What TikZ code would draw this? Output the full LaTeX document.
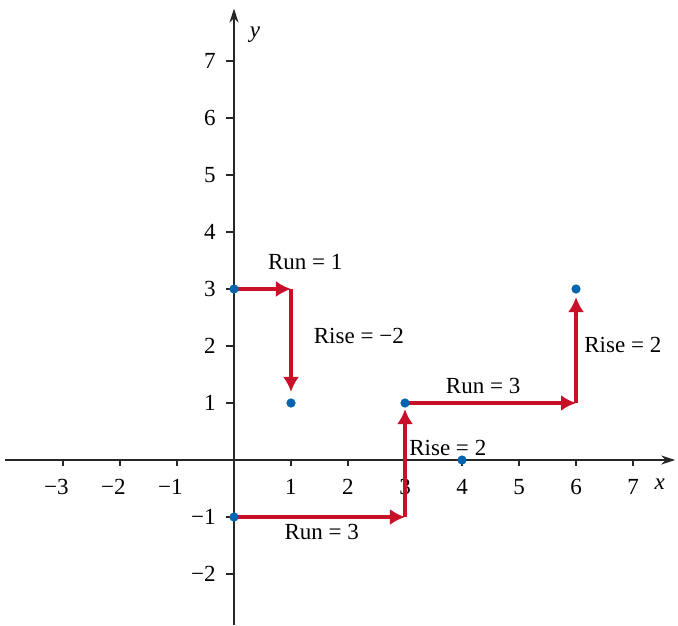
\documentclass[tikz,border=0pt]{standalone}
\usepackage{fontspec}
\setmainfont{Liberation Serif}
\usetikzlibrary{arrows.meta}
\definecolor{runred}{RGB}{200,16,40}
\definecolor{dotblue}{RGB}{0,100,175}
\begin{document}
\begin{tikzpicture}[x=1cm, y=1cm, font=\fontsize{11.5}{14}\selectfont]
	\useasboundingbox (-4.105,-2.895) rectangle (7.789,8.070);
	\tikzset{
		axis/.style={black!85, line width=0.6pt, -{Stealth[length=7pt,width=4.5pt]}},
		tick/.style={black!85, line width=0.6pt},
		pt/.style={circle, fill=dotblue, inner sep=0pt, minimum size=4.6pt},
		move/.style={runred, line width=1.6pt, -{Latex[length=7.5pt,width=8pt]}},
		lbl/.style={inner sep=1pt}
	}
	\coordinate (xl) at (-4.02,0);
	\coordinate (xr) at (7.74,0);
	\coordinate (yb) at (0,-2.89);
	\coordinate (yt) at (0,7.92);
	\draw[axis] (xl) -- (xr);
	\draw[axis] (yb) -- (yt);
	\node[font=\itshape\fontsize{11.5}{14}\selectfont] (xlab) at (7.47,-0.42) {x};
	\node[font=\itshape\fontsize{11.5}{14}\selectfont] (ylab) at (0.37,7.46) {y};
	\foreach \i in {-3,-2,-1,1,2,3,4,5,6,7} {
		\draw[tick] (\i,0) -- (\i,-0.11);
	}
	\foreach \i in {-3,-2,-1} {
		\node[anchor=north] at (\i,-0.22) {\llap{−}\the\numexpr-\i\relax};
	}
	\foreach \i in {1,...,7} {
		\node[anchor=north] at (\i,-0.22) {\i};
	}
	\foreach \j in {-2,-1,1,2,3,4,5,6,7} {
		\draw[tick] (0,\j) -- (-0.14,\j);
	}
	\foreach \j in {-2,-1} {
		\node[anchor=east] at (-0.2,\j) {−\the\numexpr-\j\relax};
	}
	\foreach \j in {1,...,7} {
		\node[anchor=east] at (-0.2,\j) {\j};
	}
	\coordinate (pa) at (0,3);
	\coordinate (pb) at (1,1);
	\coordinate (pc) at (0,-1);
	\coordinate (pd) at (3,1);
	\coordinate (pe) at (6,3);
	\coordinate (pf) at (4,0);
	\coordinate (ca) at (1,3);
	\coordinate (cb) at (3,-1);
	\coordinate (cc) at (6,1);
	\draw[move] (pa) -- (ca);
	\draw[move, shorten >=5.5pt] (ca) -- (pb);
	\draw[move] (pc) -- (cb);
	\draw[move, shorten >=3pt] (cb) -- (pd);
	\draw[move] (pd) -- (cc);
	\draw[move, shorten >=4pt] (cc) -- (pe);
	\foreach \p in {pa,pb,pc,pd,pe,pf} {
		\node[pt] at (\p) {};
	}
	\node[lbl] (runa) at (1.25,3.47) {Run = 1};
	\node[lbl] (risea) at (2.19,2.18) {Rise = −2};
	\node[lbl] (runb) at (1.54,-1.26) {Run = 3};
	\node[lbl] (riseb) at (3.75,0.21) {Rise = 2};
	\node[lbl] (runc) at (4.37,1.30) {Run = 3};
	\node[lbl] (risec) at (6.82,2.02) {Rise = 2};
\end{tikzpicture}
\end{document}
